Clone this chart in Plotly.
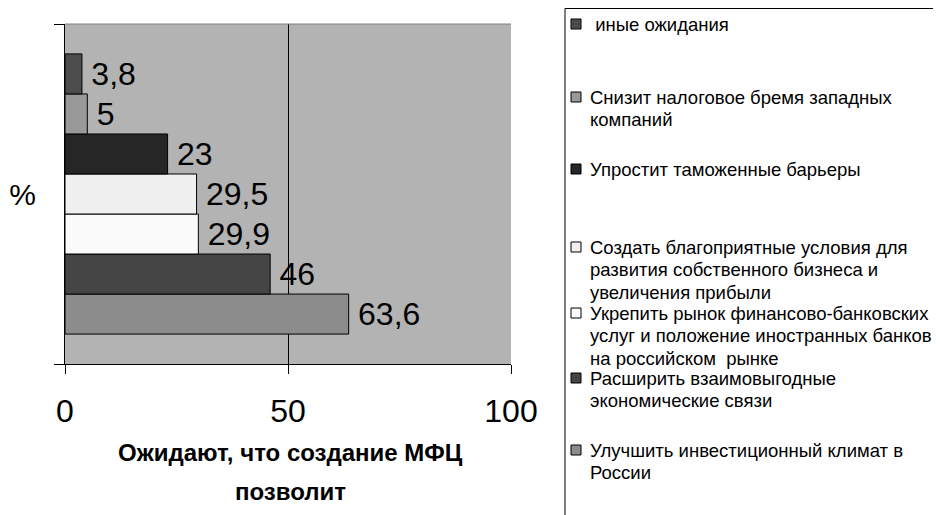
import plotly.graph_objects as go

# ---------------- data ----------------
categories = [
    "Улучшить инвестиционный климат в России",
    "Расширить взаимовыгодные экономические связи",
    "Укрепить рынок финансово-банковских услуг и положение иностранных банков на российском  рынке",
    "Создать благоприятные условия для развития собственного бизнеса и увеличения прибыли",
    "Упростит таможенные барьеры",
    "Снизит налоговое бремя западных компаний",
    " иные ожидания",
]
values = [63.6, 46, 29.9, 29.5, 23, 5, 3.8]
legend_lines = [
    ["Улучшить инвестиционный климат в", "России"],
    ["Расширить взаимовыгодные", "экономические связи"],
    ["Укрепить рынок финансово-банковских", "услуг и положение иностранных банков", "на российском  рынке"],
    ["Создать благоприятные условия для", "развития собственного бизнеса и", "увеличения прибыли"],
    ["Упростит таможенные барьеры"],
    ["Снизит налоговое бремя западных", "компаний"],
    [" иные ожидания"],
]
axis_category = ["%"]
x_ticks = [0, 50, 100]
title_lines = ["Ожидают, что создание МФЦ", "позволит"]

# ---------------- styles ----------------
colors = ["#8c8c8c", "#454545", "#fafafa", "#f0f0f0", "#262626", "#999999", "#4d4d4d"]
FONT = "Liberation Sans, Arial, sans-serif"

W, H = 941, 515
OFF = 8  # page body margin
ML, MR, MT, MB = 57, 438, 16, 159
PW, PH = W - ML - MR, H - MT - MB


def px_x(px):
    return (px - OFF - ML) / PW


def px_y(py):
    return (H - MB - (py - OFF)) / PH


fig = go.Figure()
for name, v, c in zip(categories, values, colors):
    fig.add_trace(go.Bar(
        y=axis_category, x=[v], orientation="h", name=name,
        marker=dict(color=c, line=dict(color="#000000", width=1)),
        text=["\u2009" + f"{v:g}".replace(".", ",")], textposition="outside",
        textfont=dict(size=32, color="#000000", family=FONT),
        constraintext="none", cliponaxis=False, showlegend=False,
        hoverinfo="x+name",
    ))

shapes = []
annotations = []

# plot-area top border (grey)
shapes.append(dict(type="line", xref="paper", yref="paper", x0=0, x1=1, y0=1, y1=1,
                   line=dict(color="#808080", width=1), layer="above"))

# legend box
shapes.append(dict(type="rect", xref="paper", yref="paper",
                   x0=px_x(565), x1=px_x(1000), y0=px_y(8.5), y1=px_y(600),
                   line=dict(color="#000000", width=1), fillcolor="rgba(0,0,0,0)"))

legend_centers = [450, 378, 313, 247, 169, 97, 24]
line_h = 22.5
for lines, c, cy in zip(legend_lines, colors, legend_centers):
    shapes.append(dict(type="rect", xref="paper", yref="paper",
                       x0=px_x(571), x1=px_x(581), y0=px_y(cy - 5), y1=px_y(cy + 5),
                       line=dict(color="#000000", width=1), fillcolor=c))
    for i, ln in enumerate(lines):
        annotations.append(dict(
            text=ln.replace("  ", "&nbsp; "), xref="paper", yref="paper",
            x=px_x(588), y=px_y(cy + i * line_h), xanchor="left", yanchor="middle",
            showarrow=False, font=dict(size=18.5, color="#000000", family=FONT),
        ))

# x-axis title
for i, t in enumerate(title_lines):
    annotations.append(dict(
        text=f"<b>{t}</b>", xref="paper", yref="paper",
        x=px_x(290), y=px_y(452 + i * 39), xanchor="center", yanchor="middle",
        showarrow=False, font=dict(size=24, color="#000000", family=FONT),
    ))

fig.update_layout(
    width=W, height=H,
    margin=dict(l=ML, r=MR, t=MT, b=MB, autoexpand=False),
    paper_bgcolor="#ffffff", plot_bgcolor="#b3b3b3",
    barmode="group", bargap=0.176, bargroupgap=0,
    font=dict(family=FONT, color="#000000"),
    shapes=shapes, annotations=annotations,
    xaxis=dict(
        range=[0, 100], tickvals=x_ticks, ticktext=[str(t) for t in x_ticks],
        showgrid=True, gridcolor="#000000", gridwidth=1, zeroline=False,
        showline=True, linecolor="#000000", linewidth=1,
        ticks="outside", ticklen=9, tickcolor="#000000", tickwidth=1,
        tickfont=dict(size=32, color="#000000", family=FONT),
        ticklabelstandoff=10,
    ),
    yaxis=dict(
        type="category", range=[-0.5, 0.5], tickson="boundaries",
        showgrid=False, zeroline=False,
        showline=True, linecolor="#000000", linewidth=1,
        ticks="outside", ticklen=10, tickcolor="#000000", tickwidth=1,
        tickfont=dict(size=30, color="#000000", family=FONT),
        ticklabelstandoff=22,
    ),
)

fig.write_html("out.html")
